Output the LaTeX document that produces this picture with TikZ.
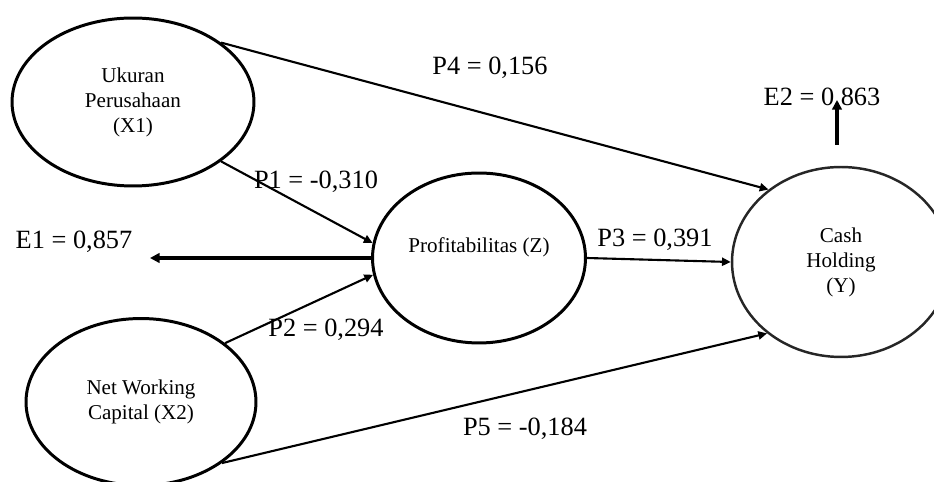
\documentclass[tikz,border=0pt]{standalone}
\usepackage{fontspec}
\setmainfont{Liberation Serif}
\usetikzlibrary{shapes.geometric, arrows.meta, positioning}

\begin{document}
\begin{tikzpicture}[
        x=0.02cm, y=-0.02cm,
        latent/.style={ellipse, draw, line width=1.7pt, align=center, inner sep=0pt, font=\fontsize{12}{14.2}\selectfont},
        path/.style={-{Triangle[length=5pt, width=4.6pt]}, line width=1.2pt},
        err/.style={-{Triangle[length=5.5pt, width=5.5pt]}, line width=1.9pt},
        coef/.style={inner sep=0pt, font=\fontsize{15}{18}\selectfont}
    ]
    \useasboundingbox (0,0) rectangle (934,482);

    % Latent variables
    \node[latent, minimum width=4.84cm, minimum height=3.36cm] (x1) at (133,102) {Ukuran\\Perusahaan\\(X1)};
    \node[latent, minimum width=4.6cm, minimum height=3.34cm] (x2) at (141,402) {Net Working\\Capital (X2)};
    \node[latent, minimum width=4.26cm, minimum height=3.4cm] (z) at (479,258) {Profitabilitas (Z)\\\mbox{}};
    \node[latent, draw=black!85, line width=1.4pt, minimum width=4.36cm, minimum height=3.8cm] (y) at (841,262) {Cash\\Holding\\(Y)};

    % Error terms
    \coordinate (e1tip) at (150,258);
    \coordinate (e2base) at (837,145);
    \coordinate (e2tip) at (837,100);

    % Paths
    \draw[path] (x1.34) -- (y.135);
    \draw[path] (x1.-34) -- (z.172);
    \draw[path] (x2.35) -- (z.189);
    \draw[path] (z.east) -- (y.west);
    \draw[path] (x2.-37) -- (y.-136);
    \draw[err] (z.west) -- (e1tip);
    \draw[err] (e2base) -- (e2tip);

    % Coefficients
    \node[coef] (p4) at (490,68) {P4 = 0,156};
    \node[coef] (p1) at (316,182) {P1 = -0,310};
    \node[coef] (p2) at (326,330) {P2 = 0,294};
    \node[coef] (p3) at (655,240) {P3 = 0,391};
    \node[coef] (p5) at (525,429) {P5 = -0,184};
    \node[coef] (e1) at (74,242) {E1 = 0,857};
    \node[coef] (e2) at (822,99) {E2 = 0,863};
\end{tikzpicture}
\end{document}
